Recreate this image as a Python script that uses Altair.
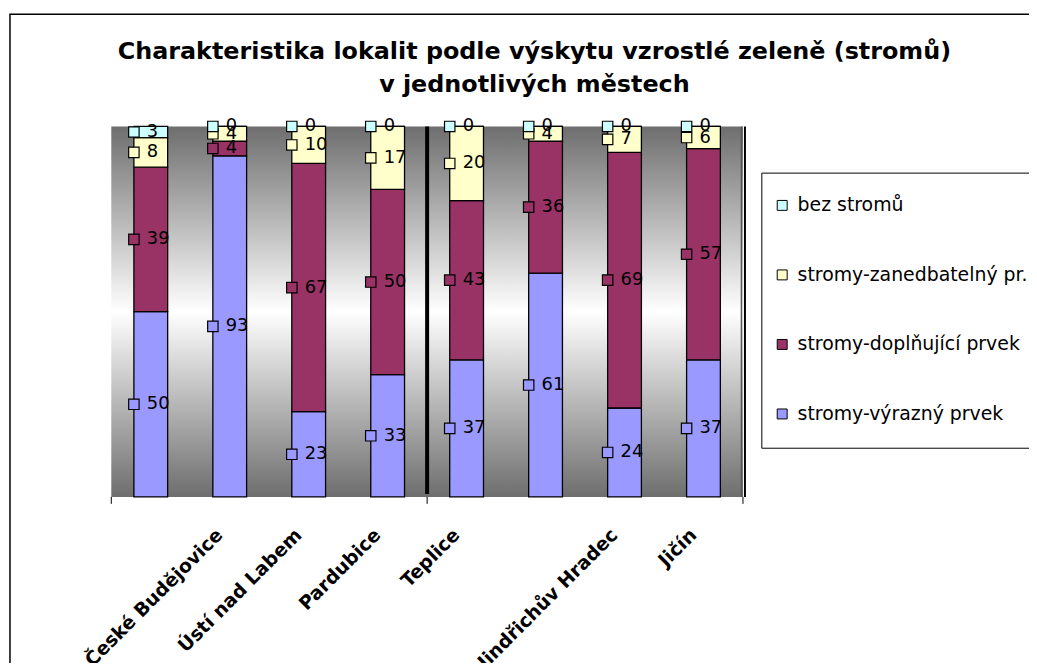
import math
import altair as alt
import pandas as pd

# ---------------- data ----------------
title_lines = ["Charakteristika lokalit podle výskytu vzrostlé zeleně (stromů)",
               "v jednotlivých městech"]
city_labels = ["České Budějovice", "Ústí nad Labem", "Pardubice", "Teplice", "",
               "Jindřichův Hradec", "Jičín", ""]
legend_order = ["bez stromů", "stromy-zanedbatelný pr.", "stromy-doplňující prvek",
                "stromy-výrazný prvek"]
colors = ["#CCFFFF", "#FFFFCC", "#993366", "#9999FF"]

vyrazny = [50, 93, 23, 33, 37, 61, 24, 37]
doplnujici = [39, 4, 67, 50, 43, 36, 69, 57]
zanedbatelny = [8, 4, 10, 17, 20, 4, 7, 6]
bez_stromu = [3, 0, 0, 0, 0, 0, 0, 0]

stack_series = [("stromy-výrazný prvek", vyrazny),
                ("stromy-doplňující prvek", doplnujici),
                ("stromy-zanedbatelný pr.", zanedbatelny),
                ("bez stromů", bez_stromu)]

rows = []
for i in range(len(city_labels)):
    for k, (name, vals) in enumerate(stack_series):
        rows.append({"i": i, "serie": name, "order": k, "value": vals[i]})
df = pd.DataFrame(rows)
label_df = pd.DataFrame({"i": list(range(len(city_labels))), "city": city_labels})

W, H = 636, 373
STEP = W / len(city_labels)
FONT = "DejaVu Sans"

color_scale = alt.Scale(domain=legend_order, range=colors)
x_scale = alt.Scale(paddingInner=0, paddingOuter=0)
y_scale = alt.Scale(domain=[0, 1], nice=False)

base = alt.Chart(df).transform_stack(
    stack="value", groupby=["i"], sort=[alt.SortField("order", order="ascending")],
    offset="normalize", as_=["y0", "y1"]
).transform_calculate(mid="(datum.y0 + datum.y1) / 2")

bars = base.mark_bar(width=34, stroke="black", strokeWidth=1.3).encode(
    x=alt.X("i:O", scale=x_scale, title=None,
            axis=alt.Axis(labels=False, ticks=False, domainColor="black", domainWidth=1)),
    y=alt.Y("y0:Q", scale=y_scale, title=None,
            axis=alt.Axis(values=[0, 1], format="%", labelFontSize=18, labelFont=FONT,
                          labelColor="black", tickSize=7, tickColor="black",
                          domainColor="black", labelPadding=12, grid=False)),
    y2="y1:Q",
    color=alt.Color("serie:N", scale=color_scale, title=None,
                    legend=alt.Legend(orient="none", legendX=666, legendY=70,
                                      symbolType="square", symbolSize=100,
                                      symbolStrokeColor="black", symbolStrokeWidth=1,
                                      labelFont=FONT, labelFontSize=19, labelColor="black",
                                      rowPadding=50, padding=0, labelOffset=6,
                                      labelLimit=400)),
)

keys = base.mark_point(shape="square", filled=True, size=110, stroke="black",
                       strokeWidth=1.2, opacity=1).encode(
    x=alt.X("i:O", scale=x_scale, bandPosition=0.5 - 17 / STEP, axis=None),
    y=alt.Y("mid:Q", scale=y_scale, axis=None),
    fill=alt.Fill("serie:N", scale=color_scale, legend=None),
)

texts = base.mark_text(align="left", baseline="middle", dx=-4, fontSize=18,
                       font=FONT, color="black").encode(
    x=alt.X("i:O", scale=x_scale, axis=None),
    y=alt.Y("mid:Q", scale=y_scale, axis=None),
    text="value:Q",
)

# category labels under the axis (rotated 45 deg, bold); tip right of band centre
ANG = 45
shift = 63 - STEP / 2
cat_labels = alt.Chart(label_df).mark_text(
    angle=360 - ANG, align="right", baseline="top", font=FONT, fontSize=19,
    fontWeight="bold", color="black",
    dx=shift * math.cos(math.radians(ANG)), dy=shift * math.sin(math.radians(ANG))
).encode(
    x=alt.X("i:O", scale=x_scale, bandPosition=1, axis=None),
    y=alt.value(H + 29),
    text="city:N",
)

# title as two text lines
title_a = alt.Chart(pd.DataFrame({"line": [title_lines[0]]})).mark_text(
    font=FONT, fontSize=24, fontWeight="bold", color="black", align="center",
    baseline="middle").encode(x=alt.value(426), y=alt.value(-75), text="line:N")
title_b = alt.Chart(pd.DataFrame({"line": [title_lines[1]]})).mark_text(
    font=FONT, fontSize=24, fontWeight="bold", color="black", align="center",
    baseline="middle").encode(x=alt.value(426), y=alt.value(-42), text="line:N")

tick_df = pd.DataFrame({"i": [0, 4]})
ticks_a = alt.Chart(tick_df).mark_rule(color="black", strokeWidth=1).encode(
    x=alt.X("i:O", scale=x_scale, bandPosition=0, axis=None),
    y=alt.value(H), y2=alt.value(H + 7))
ticks_b = alt.Chart(pd.DataFrame({"i": [7]})).mark_rule(color="black", strokeWidth=1).encode(
    x=alt.X("i:O", scale=x_scale, bandPosition=1, axis=None),
    y=alt.value(H), y2=alt.value(H + 7))
divider = alt.Chart(pd.DataFrame({"i": [4]})).mark_rule(color="black", strokeWidth=4).encode(
    x=alt.X("i:O", scale=x_scale, bandPosition=0, axis=None),
    y=alt.value(0), y2=alt.value(H - 3))

one = pd.DataFrame({"a": [0]})
gradient = alt.LinearGradient(
    gradient="linear", x1=0, y1=0, x2=0, y2=1,
    stops=[alt.GradientStop(offset=0, color="#6e6e6e"),
           alt.GradientStop(offset=0.5, color="#ffffff"),
           alt.GradientStop(offset=1, color="#6e6e6e")])
backdrop = alt.Chart(one).mark_rect(color=gradient).encode(
    x=alt.value(0), x2=alt.value(W), y=alt.value(0), y2=alt.value(H))
edge_in = alt.Chart(one).mark_rule(color="#555555", strokeWidth=1.5).encode(
    x=alt.value(W - 1.5), y=alt.value(0), y2=alt.value(H))
edge_out = alt.Chart(one).mark_rule(color="black", strokeWidth=2).encode(
    x=alt.value(W + 2), y=alt.value(0), y2=alt.value(H))

legend_box = alt.Chart(one).mark_rect(fill="white", stroke="black", strokeWidth=1).encode(
    x=alt.value(655), x2=alt.value(1000), y=alt.value(47), y2=alt.value(324))
outer_box = alt.Chart(one).mark_rect(filled=False, stroke="black", strokeWidth=1.5).encode(
    x=alt.value(-102), x2=alt.value(1000), y=alt.value(-113), y2=alt.value(700))

chart = alt.layer(
    outer_box, legend_box, backdrop, bars, divider, ticks_a, ticks_b, edge_in, edge_out,
    keys, texts, cat_labels, title_a, title_b
).properties(
    width=W, height=H,
    autosize="none",
    padding={"left": 104, "top": 117, "right": 288, "bottom": 165},
).configure_view(stroke=None)

chart.save("out.html", embed_options={"renderer": "svg", "actions": False})
